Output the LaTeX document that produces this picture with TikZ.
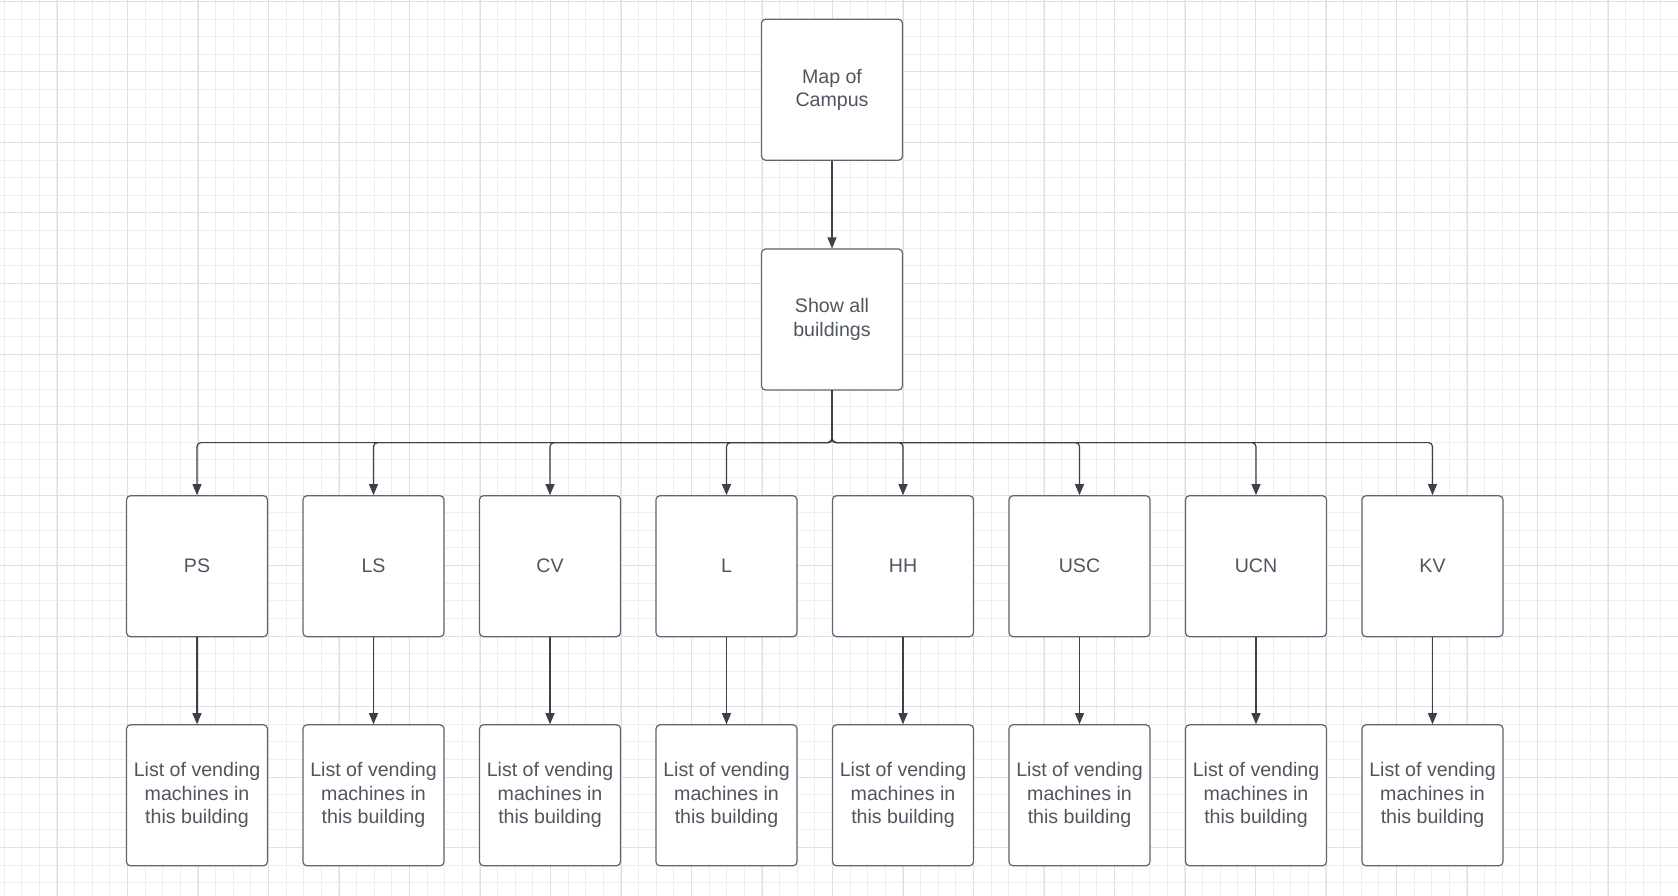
\documentclass[tikz,border=0pt]{standalone}
\usepackage{fontspec}
\setmainfont{Liberation Sans}
\usetikzlibrary{positioning,arrows.meta}
\definecolor{gridMinor}{HTML}{EEEEEE}
\definecolor{gridMajor}{HTML}{E0E0E0}
\definecolor{boxE}{HTML}{5E6571}
\definecolor{lineE}{HTML}{3B4049}
\definecolor{textC}{HTML}{50565F}

\begin{document}
\begin{tikzpicture}[
    x=1pt,y=-1pt,
    >={Triangle[length=11pt,width=9pt]},
    font=\fontsize{19.6}{23.5}\selectfont,
    card/.style={rectangle,draw=boxE,fill=white,line width=1.2pt,
                 rounded corners=4pt,minimum width=141pt,minimum height=141pt,
                 inner sep=0pt,align=center,text=textC},
    flow/.style={->,draw=lineE,line width=1.2pt,rounded corners=4pt},
    minorgrid/.style={draw=gridMinor,line width=1pt},
    majorgrid/.style={draw=gridMajor,line width=1pt},
]
\useasboundingbox (0,0) rectangle (1678,896);

% =====================================================================
%  background grid
% =====================================================================
\fill[white] (0,0) rectangle (1678,896);
\foreach \i in {0,...,95} \draw[minorgrid] ({4.1+17.625*\i},0) -- ++(0,896);
\foreach \i in {0,...,50} \draw[minorgrid] (0,{1.5+17.625*\i}) -- ++(1678,0);
\foreach \i in {-1,...,23} \draw[majorgrid] ({57+70.5*\i},0) -- ++(0,896);
\foreach \i in {0,...,12} \draw[majorgrid] (0,{1.5+70.5*\i}) -- ++(1678,0);

% =====================================================================
%  top of the tree
% =====================================================================
\node[card] (map)  at (832,89.7)  {Map of\\Campus};
\node[card] (show) at (832,319.5) {Show all\\buildings};
\draw[flow] (map) -- (show);

% =====================================================================
%  one column per building: building box -> list of machines
% =====================================================================
\foreach \n/\t [count=\i from 0] in {ps/PS,ls/LS,cv/CV,l/L,hh/HH,usc/USC,ucn/UCN,kv/KV} {
   \node[card] (\n) at ({197+176.5*\i},566.2) {\t};
   \node[card] (\n-list) at ({197+176.5*\i},795.3)
        {List of vending\\machines in\\this building};
   \draw[flow] (show.south) -- ++(0,52) -| (\n.north);
   \draw[flow] (\n) -- (\n-list);
}

\end{tikzpicture}
\end{document}
